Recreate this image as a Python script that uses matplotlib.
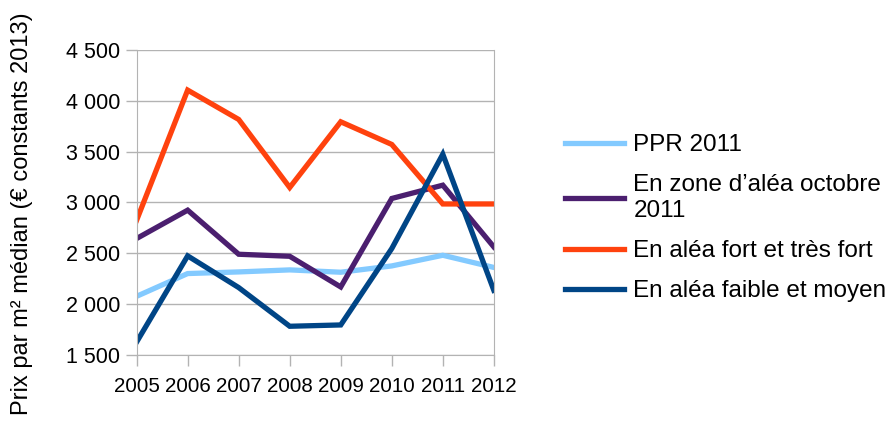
import matplotlib.pyplot as plt

plt.rcParams["font.family"] = ["Liberation Sans", "DejaVu Sans"]

years = [2005, 2006, 2007, 2008, 2009, 2010, 2011, 2012]

ppr_2011 = [2076, 2300, 2316, 2336, 2313, 2375, 2480, 2360]
zone_octobre_2011 = [2645, 2924, 2490, 2470, 2168, 3039, 3170, 2562]
alea_fort = [2825, 4106, 3817, 3147, 3794, 3571, 2985, 2985]
alea_faible = [1626, 2474, 2162, 1781, 1794, 2546, 3475, 2135]

labels = [
    "PPR 2011",
    "En zone d\u2019aléa octobre\n2011",
    "En aléa fort et très fort",
    "En aléa faible et moyen",
]
colors = ["#83caff", "#4b1f6f", "#ff420e", "#004586"]

fig = plt.figure(figsize=(8.93, 4.28), dpi=100)
ax = fig.add_axes([0.153, 0.171, 0.4, 0.712])

series = [ppr_2011, zone_octobre_2011, alea_fort, alea_faible]
for values, label, color in zip(series, labels, colors):
    ax.plot(years, values, color=color, linewidth=3.8, label=label,
            solid_joinstyle="miter")

ax.set_xlim(2005, 2012)
ax.set_ylim(1500, 4500)
ax.set_xticks(years)
ax.set_yticks([1500, 2000, 2500, 3000, 3500, 4000, 4500])
ax.set_yticklabels(["1 500", "2 000", "2 500", "3 000", "3 500", "4 000", "4 500"])

ax.grid(axis="y", color="#b3b3b3", linewidth=1)
ax.set_axisbelow(True)
for side in ["left", "right", "bottom", "top"]:
    ax.spines[side].set_color("#b3b3b3")
ax.spines["top"].set_visible(False)
ax.tick_params(axis="both", colors="#b3b3b3", labelcolor="black",
               length=8, width=1)
ax.tick_params(axis="y", pad=4, labelsize=15.5)
ax.tick_params(axis="x", pad=8, labelsize=14.8)

# axis title placed near the left edge of the figure
fig.text(0.025, 0.5, "Prix par m² médian (€ constants 2013)", fontsize=17,
         rotation=90, ha="center", va="center")

ax.legend(loc="center left", bbox_to_anchor=(0.633, 0.49),
          bbox_transform=fig.transFigure, frameon=False, fontsize=17.5,
          handlelength=2.4, handletextpad=0.4, labelspacing=0.75,
          borderaxespad=0, borderpad=0)

fig.savefig("out.png", dpi=100)
plt.close(fig)
